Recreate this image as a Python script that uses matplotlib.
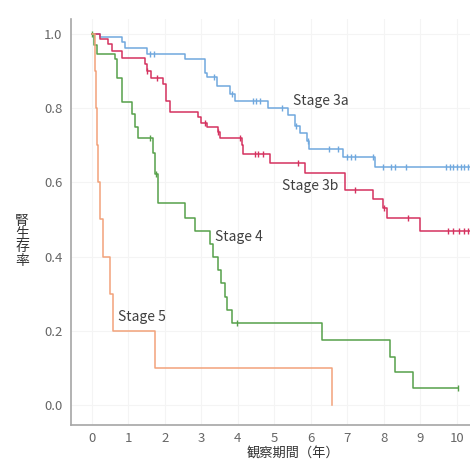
import numpy as np
import matplotlib.pyplot as plt

plt.rcParams['font.family'] = ['Noto Sans CJK JP', 'DejaVu Sans']

# Kaplan-Meier step data (time in years, survival)
times_3a = [0, 0.22, 0.82, 0.9, 1.5, 2.55, 3.1, 3.15, 3.42, 3.78, 3.92, 4.82,
            5.37, 5.56, 5.7, 5.9, 5.95, 6.88, 7.75]
surv_3a = [1.0, 0.992, 0.979, 0.962, 0.946, 0.932, 0.895, 0.885, 0.86, 0.838,
           0.82, 0.80, 0.78, 0.753, 0.734, 0.712, 0.69, 0.668, 0.64]
cens_3a = [1.6, 1.7, 3.35, 3.85, 4.4, 4.5, 4.6, 5.2, 5.6, 5.93, 6.5, 6.75,
           7.0, 7.1, 7.2, 7.7, 7.97, 8.2, 8.3, 8.6, 9.7, 9.8, 9.9, 10.0, 10.1, 10.2, 10.3]
end_3a = 10.35

times_3b = [0, 0.22, 0.44, 0.55, 0.82, 1.45, 1.5, 1.62, 1.95, 2.02, 2.14, 2.9,
            3.0, 3.15, 3.45, 3.52, 4.1, 4.15, 4.88, 5.84, 6.93, 7.7, 7.97, 8.08, 8.98]
surv_3b = [1.0, 0.985, 0.973, 0.954, 0.935, 0.92, 0.90, 0.88, 0.866, 0.818, 0.79,
           0.775, 0.76, 0.75, 0.735, 0.718, 0.70, 0.677, 0.653, 0.624, 0.58,
           0.556, 0.53, 0.503, 0.468]
cens_3b = [1.52, 1.78, 3.1, 3.45, 4.05, 4.47, 4.55, 4.68, 5.65, 7.2, 8.0, 8.66,
           9.75, 9.9, 10.05, 10.2, 10.3]
end_3b = 10.35

times_4 = [0, 0.05, 0.15, 0.63, 0.69, 0.82, 1.1, 1.18, 1.26, 1.67, 1.72, 1.81,
           2.55, 2.82, 3.23, 3.32, 3.45, 3.55, 3.64, 3.7, 3.84, 6.3, 8.16, 8.3, 8.8]
surv_4 = [1.0, 0.97, 0.946, 0.932, 0.88, 0.815, 0.785, 0.748, 0.718, 0.68, 0.623,
          0.543, 0.505, 0.47, 0.435, 0.398, 0.363, 0.33, 0.29, 0.255, 0.22,
          0.175, 0.13, 0.089, 0.046]
cens_4 = [0.0, 1.6, 1.76, 3.97, 10.03]
end_4 = 10.03

times_5 = [0, 0.08, 0.12, 0.14, 0.17, 0.22, 0.3, 0.49, 0.57, 1.73, 6.57]
surv_5 = [1.0, 0.9, 0.8, 0.7, 0.6, 0.5, 0.4, 0.3, 0.2, 0.1, 0.0]
cens_5 = []
end_5 = 6.57

stages = ['Stage 3a', 'Stage 3b', 'Stage 4', 'Stage 5']
label_pos = [(5.51, 0.818), (5.2, 0.59), (3.37, 0.453), (0.71, 0.236)]
colors = ['#70a8de', '#d5325f', '#56a04a', '#f2a27a']

curves = [(times_3a, surv_3a, cens_3a, end_3a),
          (times_3b, surv_3b, cens_3b, end_3b),
          (times_4, surv_4, cens_4, end_4),
          (times_5, surv_5, cens_5, end_5)]

fig = plt.figure(figsize=(4.7, 4.63), dpi=100)
ax = fig.add_axes([0.151, 0.082, 0.849, 0.877])

for (t, s, c, end), col, name, pos in zip(curves, colors, stages, label_pos):
    t = np.array(t + [end])
    s = np.array(s + [s[-1]])
    ax.step(t, s, where='post', color=col, lw=1.1)
    if c:
        c = np.array(c)
        idx = np.searchsorted(t, c, side='right') - 1
        ax.plot(c, s[idx], ls='none', marker='|', ms=5, mew=1.0, color=col)
    ax.text(pos[0], pos[1], name, fontsize=10, color='#404040', va='center', ha='left')

ax.set_xlim(-0.575, 10.36)
ax.set_ylim(-0.054, 1.04)
ax.set_xticks(range(0, 11))
ax.set_yticks([0.0, 0.2, 0.4, 0.6, 0.8, 1.0])
ax.set_yticklabels(['0.0', '0.2', '0.4', '0.6', '0.8', '1.0'])
ax.tick_params(length=0, labelsize=9.5, colors='#666666')
ax.tick_params(axis='x', pad=5)
ax.tick_params(axis='y', pad=6)
for side in ['top', 'right']:
    ax.spines[side].set_visible(False)
for side in ['left', 'bottom']:
    ax.spines[side].set_color('#a6a6a6')
    ax.spines[side].set_linewidth(1.2)
ax.grid(True, color='#f4f4f4', lw=0.8)
ax.set_axisbelow(True)

ax.set_xlabel('観察期間（年）', fontsize=9.5, color='#333333')
ax.xaxis.set_label_coords(0.556, -0.053)
fig.text(0.047, 0.48, '腎\n生\n存\n率', fontsize=10, color='#333333',
         ha='center', va='center', linespacing=0.95)

fig.savefig('out.png', dpi=100)
